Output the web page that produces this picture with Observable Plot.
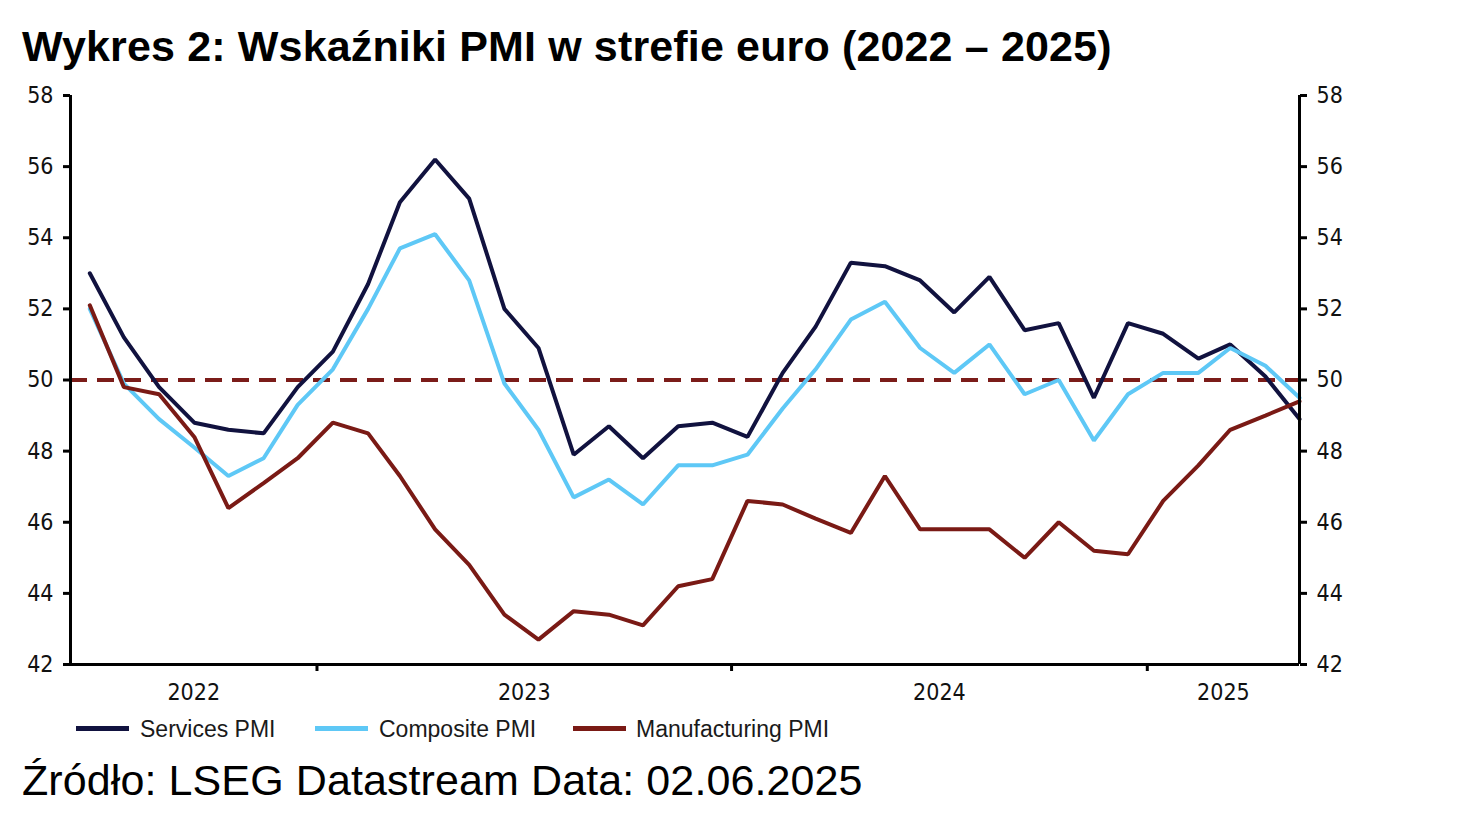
<!DOCTYPE html>
<html lang="pl">
<head>
<meta charset="utf-8">
<script src="https://cdn.jsdelivr.net/npm/d3@7"></script>
<script src="https://cdn.jsdelivr.net/npm/@observablehq/plot@0.6"></script>
<style>
  html, body { margin: 0; padding: 0; background: #fff; }
  #page { position: relative; width: 1476px; height: 816px; overflow: hidden; }
  #title { position: absolute; left: 22px; top: 25px; margin: 0; font: bold 43px/1 "Liberation Sans", Arial, sans-serif; color: #000; white-space: nowrap; letter-spacing: 0.15px; }
  #chart { position: absolute; left: 0; top: 80px; }
  #legend { position: absolute; left: 0; top: 718px; width: 1476px; height: 24px; font: 23px/1 "Liberation Sans", Arial, sans-serif; color: #1a1a1a; }
  .item { position: absolute; top: 0; white-space: nowrap; }
  .swatch { position: absolute; top: 8px; height: 5px; width: 53px; }
  .item span { position: absolute; top: 0; }
  #source { position: absolute; left: 22px; top: 759px; margin: 0; font: 43px/1 "Liberation Sans", Arial, sans-serif; color: #000; white-space: nowrap; letter-spacing: 0.1px; }
</style>
</head>
<body>
<div id="page">
  <h1 id="title">Wykres 2: Wskaźniki PMI w strefie euro (2022 – 2025)</h1>
  <div id="chart"></div>
  <div id="legend"></div>
  <p id="source">Źródło: LSEG Datastream Data: 02.06.2025</p>
</div>
<script>
// Monthly euro-area PMI readings, June 2022 – May 2025
const months = [
  "2022-06", "2022-07", "2022-08", "2022-09", "2022-10", "2022-11", "2022-12",
  "2023-01", "2023-02", "2023-03", "2023-04", "2023-05", "2023-06", "2023-07",
  "2023-08", "2023-09", "2023-10", "2023-11", "2023-12",
  "2024-01", "2024-02", "2024-03", "2024-04", "2024-05", "2024-06", "2024-07",
  "2024-08", "2024-09", "2024-10", "2024-11", "2024-12",
  "2025-01", "2025-02", "2025-03", "2025-04", "2025-05"
];
const services = [
  53.0, 51.2, 49.8, 48.8, 48.6, 48.5, 49.8,
  50.8, 52.7, 55.0, 56.2, 55.1, 52.0, 50.9,
  47.9, 48.7, 47.8, 48.7, 48.8,
  48.4, 50.2, 51.5, 53.3, 53.2, 52.8, 51.9,
  52.9, 51.4, 51.6, 49.5, 51.6,
  51.3, 50.6, 51.0, 50.1, 48.9
];
const composite = [
  52.0, 49.9, 48.9, 48.1, 47.3, 47.8, 49.3,
  50.3, 52.0, 53.7, 54.1, 52.8, 49.9, 48.6,
  46.7, 47.2, 46.5, 47.6, 47.6,
  47.9, 49.2, 50.3, 51.7, 52.2, 50.9, 50.2,
  51.0, 49.6, 50.0, 48.3, 49.6,
  50.2, 50.2, 50.9, 50.4, 49.5
];
const manufacturing = [
  52.1, 49.8, 49.6, 48.4, 46.4, 47.1, 47.8,
  48.8, 48.5, 47.3, 45.8, 44.8, 43.4, 42.7,
  43.5, 43.4, 43.1, 44.2, 44.4,
  46.6, 46.5, 46.1, 45.7, 47.3, 45.8, 45.8,
  45.8, 45.0, 46.0, 45.2, 45.1,
  46.6, 47.6, 48.6, 49.0, 49.4
];

const seriesNames = ["Services PMI", "Composite PMI", "Manufacturing PMI"];
const seriesColors = ["#11123f", "#5ec8f6", "#7a1a15"];
const yTicks = [42, 44, 46, 48, 50, 52, 54, 56, 58];
const yDomain = [42, 58];
const threshold = 50;
const yearLabels = ["2022", "2023", "2024", "2025"];
const yearStarts = ["2023-01-01", "2024-01-01", "2025-01-01"];
const xDomain = ["2022-05-29", "2025-05-15"];

// Readings are plotted at mid-month
const toDate = s => new Date(s.length === 7 ? s + "-15" : s);
const x0 = toDate(xDomain[0]);
const x1 = toDate(xDomain[1]);

const rows = months.map((m, i) => ({
  date: toDate(m),
  services: services[i],
  composite: composite[i],
  manufacturing: manufacturing[i]
}));

// Year labels sit centred within the visible part of each calendar year
const yearMid = yearLabels.map(y => {
  const a = Math.max(+new Date(`${y}-01-01`), +x0);
  const b = Math.min(+new Date(`${+y + 1}-01-01`), +x1);
  return {label: y, date: new Date((a + b) / 2)};
});

const axisColor = "#000";
const tickFont = "'DejaVu Sans Condensed', 'DejaVu Sans', sans-serif";

const chart = Plot.plot({
  width: 1476,
  height: 635,
  marginTop: 15,
  marginBottom: 51,
  marginLeft: 70,
  marginRight: 177,
  x: {type: "utc", domain: [x0, x1], axis: null, label: null},
  y: {domain: yDomain, axis: null, label: null},
  style: {
    fontFamily: tickFont,
    fontStretch: "condensed",
    fontSize: "23px",
    color: "#111",
    background: "transparent",
    overflow: "visible"
  },
  marks: [
    Plot.ruleY([threshold], {stroke: "#7b1c19", strokeWidth: 4, strokeDasharray: "17,10"}),
    Plot.lineY(rows, {x: "date", y: "services", stroke: seriesColors[0], strokeWidth: 4, strokeLinejoin: "miter"}),
    Plot.lineY(rows, {x: "date", y: "composite", stroke: seriesColors[1], strokeWidth: 4, strokeLinejoin: "miter"}),
    Plot.lineY(rows, {x: "date", y: "manufacturing", stroke: seriesColors[2], strokeWidth: 4, strokeLinejoin: "miter"}),
    // frame lines: left, right and bottom
    Plot.ruleX([x0, x1], {y1: yDomain[0], y2: yDomain[1], stroke: axisColor, strokeWidth: 3}),
    Plot.ruleY([yDomain[0]], {x1: x0, x2: x1, stroke: axisColor, strokeWidth: 3}),
    Plot.axisY(yTicks, {anchor: "left", tickSize: 7, tickPadding: 10, strokeWidth: 3, stroke: axisColor, label: null, fill: "#111"}),
    Plot.axisY(yTicks, {anchor: "right", tickSize: 7, tickPadding: 10, strokeWidth: 3, stroke: axisColor, label: null, fill: "#111"}),
    Plot.axisX(yearStarts.map(toDate), {anchor: "bottom", tickSize: 7, tickFormat: () => "", strokeWidth: 3, stroke: axisColor, label: null}),
    Plot.text(yearMid, {x: "date", text: "label", frameAnchor: "bottom", dy: 35, fill: "#111"})
  ]
});
document.getElementById("chart").append(chart);

// Legend below the plot
const legendPos = [{line: 76, text: 140}, {line: 315, text: 379}, {line: 573, text: 636}];
const legend = document.getElementById("legend");
seriesNames.forEach((name, i) => {
  const item = document.createElement("div");
  item.className = "item";
  item.style.left = legendPos[i].line + "px";
  const sw = document.createElement("div");
  sw.className = "swatch";
  sw.style.left = "0px";
  sw.style.background = seriesColors[i];
  const label = document.createElement("span");
  label.style.left = (legendPos[i].text - legendPos[i].line) + "px";
  label.textContent = name;
  item.append(sw, label);
  legend.append(item);
});
</script>
</body>
</html>
